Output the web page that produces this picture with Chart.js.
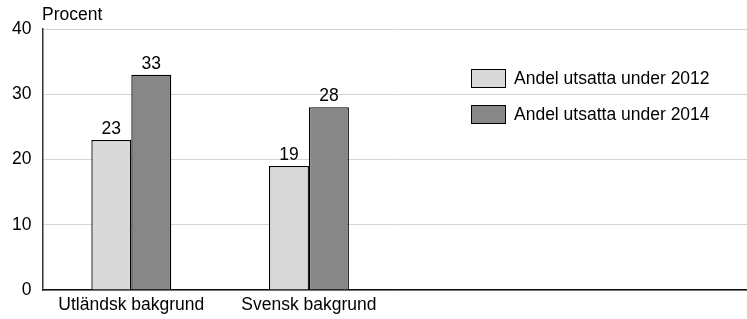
<!DOCTYPE html>
<html>
<head>
<meta charset="utf-8">
<script src="https://cdn.jsdelivr.net/npm/chart.js@4"></script>
<style>
  body { margin: 0; background: #fff; overflow: hidden; width: 747px; height: 319px; }
  #board { display: block; }
</style>
</head>
<body>
<canvas id="board" width="753" height="319"></canvas>
<script>
let categories = ["Utländsk bakgrund", "Svensk bakgrund", "", ""];
let andel2012 = [23, 19, null, null];
let andel2014 = [33, 28, null, null];
let yTicks = [0, 10, 20, 30, 40];
let fontName = "'Liberation Sans', Arial, sans-serif";

// etiketter ovanfor staplarna, rubrik och legend
let extras = {
  id: "extras",
  afterDatasetsDraw(chart) {
    let ctx = chart.ctx;
    ctx.save();
    ctx.fillStyle = "#000";
    ctx.font = "17.5px " + fontName;
    ctx.textAlign = "center";
    ctx.textBaseline = "bottom";
    chart.data.datasets.forEach((ds, i) => {
      chart.getDatasetMeta(i).data.forEach((bar, j) => {
        if (ds.data[j] == null) return;
        ctx.fillText(ds.data[j], bar.x, bar.y - 2);
      });
    });
    // Procent
    ctx.textAlign = "left";
    ctx.textBaseline = "middle";
    ctx.fillText("Procent", 42, 15);
    // legend
    chart.data.datasets.forEach((ds, i) => {
      let y = 69 + i * 36;
      ctx.fillStyle = ds.backgroundColor;
      ctx.fillRect(471, y, 34, 18);
      ctx.strokeStyle = "#000";
      ctx.lineWidth = 1;
      ctx.strokeRect(471.5, y + 0.5, 34, 18);
      ctx.fillStyle = "#000";
      ctx.fillText(ds.label, 514, y + 10);
    });
    ctx.restore();
  }
};

new Chart(document.getElementById("board"), {
  type: "bar",
  data: {
    labels: categories,
    datasets: [
      {
        label: "Andel utsatta under 2012",
        data: andel2012,
        backgroundColor: "#d9d9d9",
        borderColor: "#000",
        borderWidth: 1.3
      },
      {
        label: "Andel utsatta under 2014",
        data: andel2014,
        backgroundColor: "#878787",
        borderColor: "#000",
        borderWidth: 1.3
      }
    ]
  },
  options: {
    responsive: false,
    animation: false,
    layout: { padding: { top: 29, right: 0, left: 0, bottom: 0 } },
    datasets: { bar: { categoryPercentage: 0.45, barPercentage: 1 } },
    plugins: { legend: { display: false }, tooltip: { enabled: false } },
    scales: {
      x: {
        grid: { display: false, drawTicks: false },
        border: { color: "#111", width: 1.5 },
        ticks: { color: "#000", font: { family: fontName, size: 17.5 }, padding: 5, maxRotation: 0, autoSkip: false },
        afterFit(s) { s.height = 29; }
      },
      y: {
        min: 0,
        max: 40,
        afterBuildTicks(s) { s.ticks = yTicks.map(v => ({ value: v })); },
        grid: { color: "#d4d4d4", lineWidth: 1, drawTicks: false },
        border: { color: "#333", width: 1.5 },
        ticks: { color: "#000", font: { family: fontName, size: 17.5 }, padding: 11 },
        afterFit(s) { s.width = 42.5; }
      }
    }
  },
  plugins: [extras]
});
</script>
</body>
</html>
